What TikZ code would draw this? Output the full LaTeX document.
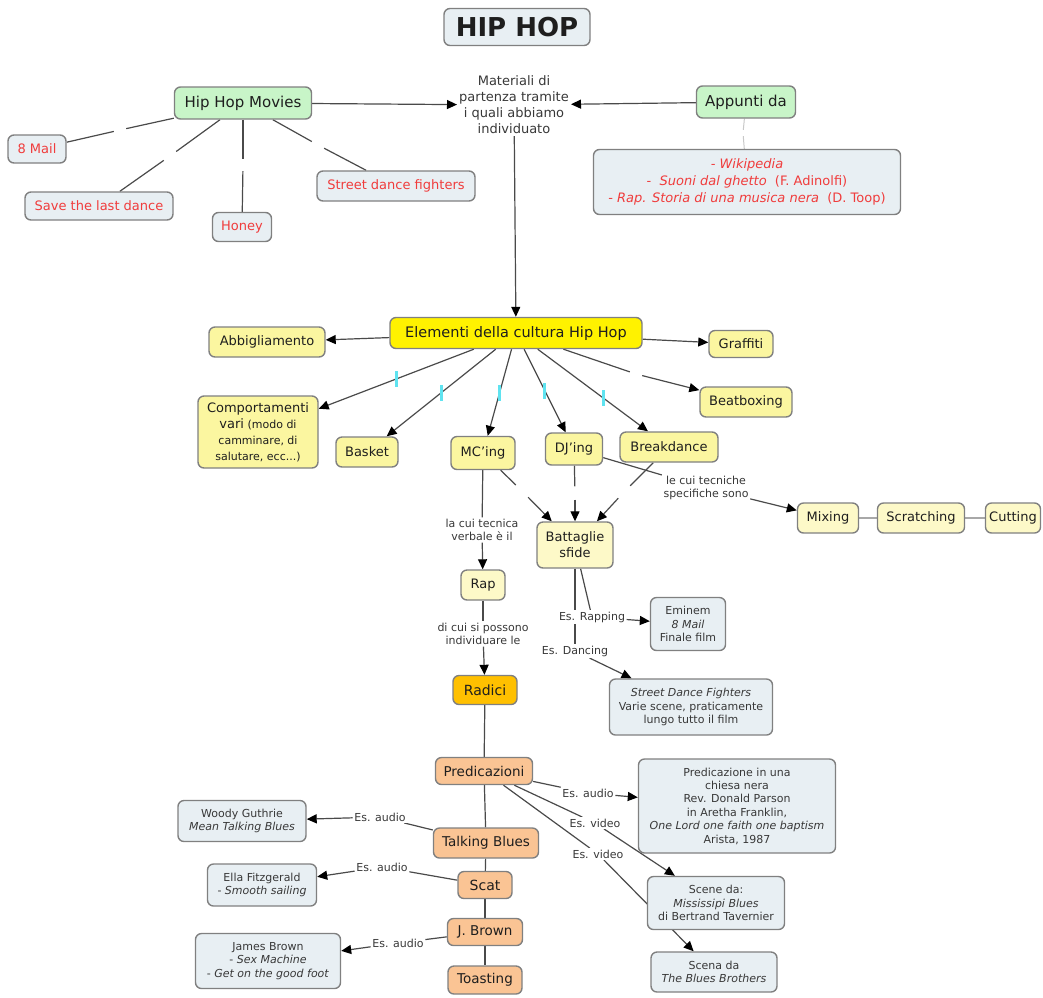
\documentclass[tikz,border=0pt]{standalone}
\usepackage{fontspec}
\setmainfont{DejaVu Sans}
\usetikzlibrary{arrows.meta,backgrounds}
\definecolor{edge}{HTML}{808080}
\definecolor{wire}{HTML}{4A4A4A}
\definecolor{ink}{HTML}{1E1E1E}
\definecolor{softink}{HTML}{383838}
\definecolor{mint}{HTML}{C8F5C8}
\definecolor{mist}{HTML}{E8EFF3}
\definecolor{lemon}{HTML}{FFF200}
\definecolor{butter}{HTML}{FBF6A0}
\definecolor{cream}{HTML}{FDF9C8}
\definecolor{amber}{HTML}{FFC000}
\definecolor{peach}{HTML}{FAC494}
\definecolor{filmred}{HTML}{F03C3C}
\definecolor{tickcyan}{HTML}{5FE3F0}
\definecolor{chain}{HTML}{A8A8A8}
\definecolor{faint}{HTML}{C8C8C8}
\newcommand\fsz[2]{\fontsize{#1}{#2}\selectfont}

\begin{document}
\begin{tikzpicture}[x=1pt,y=-1pt,
  box/.style={draw=edge, line width=1.4pt, rounded corners=6pt, align=center,
              inner sep=2pt, text=ink},
  titlebox/.style={box, fill=mist, font=\fsz{26}{30}\bfseries},
  greenbox/.style={box, fill=mint, font=\fsz{15}{18}},
  filmbox/.style={box, fill=mist, text=filmred, font=\fsz{13}{16}},
  mainbox/.style={box, fill=lemon, font=\fsz{14.5}{18}},
  yelbox/.style={box, fill=butter, font=\fsz{13}{16}},
  creambox/.style={box, fill=cream, font=\fsz{13}{16}},
  rootbox/.style={box, fill=amber, font=\fsz{14}{17}},
  peachbox/.style={box, fill=peach, font=\fsz{13.5}{16}},
  notebox/.style={box, fill=mist, font=\fsz{11}{13.4}, text=softink},
  lbl/.style={fill=white, inner sep=1.5pt, align=center, text=softink,
              font=\fsz{11}{13.2}},
  gap/.style={inner sep=0pt, minimum size=12pt},
  link/.style={draw=wire, line width=1.2pt},
  arr/.style={link, -{Triangle[length=10pt,width=9pt,color=black]}},
  tick/.style={fill=tickcyan, inner sep=0pt, minimum width=3pt, minimum height=16pt},
  chainlink/.style={draw=chain, line width=2.6pt}
]
\useasboundingbox (0,0) rectangle (1043,997);

% ---------- header and sources ----------
\node[titlebox, minimum width=146pt, minimum height=37pt] (title) at (517,27) {HIP HOP};
\node[font=\fsz{13}{16}, align=center, inner sep=2pt, text=softink] (mat) at (514,105)
  {Materiali di\\partenza tramite\\i quali abbiamo\\individuato};

\node[greenbox, minimum width=137pt, minimum height=32pt] (hhm) at (243,103) {Hip Hop Movies};
\node[greenbox, minimum width=99pt, minimum height=32pt] (app) at (746,102) {Appunti da};

\node[box, fill=mist, text=filmred, font=\fsz{13}{17}, minimum width=307pt, minimum height=65pt] (wiki) at (747,182)
  {\itshape - Wikipedia\\
   -~~\textit{Suoni dal ghetto}~~(F. Adinolfi)\\
   - \textit{Rap. Storia di una musica nera}~~(D. Toop)};

\node[filmbox, minimum width=58pt, minimum height=28pt] (m8) at (37,149) {8 Mail};
\node[filmbox, minimum width=148pt, minimum height=28pt] (save) at (99,206) {Save the last dance};
\node[filmbox, minimum width=59pt, minimum height=29pt] (honey) at (242,227) {Honey};
\node[filmbox, minimum width=158pt, minimum height=30pt] (street) at (396,186) {Street dance fighters};

\node[gap] (g1) at (120,130) {};
\node[gap] (g2) at (170,156) {};
\node[gap] (g3) at (243,165) {};
\node[gap] (g4) at (318,145) {};
\node[gap, minimum size=6pt] (g5) at (743,133) {};

% ---------- elements of the culture ----------
\node[mainbox, minimum width=252pt, minimum height=31pt] (elem) at (516,333) {Elementi della cultura Hip Hop};
\node[yelbox, minimum width=116pt, minimum height=30pt] (abb) at (267,342) {Abbigliamento};
\node[yelbox, minimum width=64pt, minimum height=27pt] (graf) at (741,344) {Graffiti};
\node[yelbox, minimum width=92pt, minimum height=30pt] (beat) at (746,402) {Beatboxing};
\node[yelbox, font=\fsz{11}{16}, minimum width=120pt, minimum height=72pt] (comp) at (258,432)
  {{\fsz{13}{16}Comportamenti}\\{\fsz{13}{16}vari} (modo di\\camminare, di\\salutare, ecc...)};
\node[yelbox, minimum width=62pt, minimum height=30pt] (basket) at (367,452) {Basket};
\node[yelbox, minimum width=64pt, minimum height=33pt] (mc) at (483,453) {MC'ing};
\node[yelbox, minimum width=57pt, minimum height=32pt] (dj) at (574,449) {DJ'ing};
\node[yelbox, minimum width=98pt, minimum height=30pt] (brk) at (669,447) {Breakdance};

\node[gap] (g6) at (636,374) {};
\node[gap] (g7) at (522,491) {};
\node[gap, minimum size=13pt] (g8) at (575,493) {};
\node[gap] (g9) at (624,492) {};

\node[creambox, minimum width=76pt, minimum height=46pt] (bat) at (575,545) {Battaglie\\sfide};
\node[lbl] (lecui) at (706,488) {le cui tecniche\\specifiche sono};
\node[creambox, minimum width=61pt, minimum height=30pt] (mix) at (828,518) {Mixing};
\node[creambox, minimum width=87pt, minimum height=30pt] (scr) at (921,518) {Scratching};
\node[creambox, minimum width=55pt, minimum height=30pt] (cut) at (1013,518) {Cutting};

\node[lbl] (lacui) at (482,530) {la cui tecnica\\verbale è il};
\node[creambox, minimum width=44pt, minimum height=30pt] (rap) at (483,585) {Rap};
\node[lbl] (dicui) at (483,634) {di cui si possono\\individuare le};
\node[rootbox, minimum width=64pt, minimum height=29pt] (radici) at (485,690) {Radici};

\node[lbl] (esrap) at (592,617) {Es. Rapping};
\node[lbl] (esdan) at (575,651) {Es. Dancing};
\node[notebox, minimum width=75pt, minimum height=53pt] (emin) at (688,624)
  {Eminem\\\textit{8 Mail}\\Finale film};
\node[notebox, minimum width=163pt, minimum height=56pt] (sdf) at (691,707)
  {\textit{Street Dance Fighters}\\Varie scene, praticamente\\lungo tutto il film};

% ---------- roots ----------
\node[peachbox, minimum width=97pt, minimum height=27pt] (pred) at (484,771) {Predicazioni};
\node[peachbox, minimum width=105pt, minimum height=30pt] (talk) at (486,843) {Talking Blues};
\node[peachbox, font=\fsz{14}{17}, minimum width=54pt, minimum height=27pt] (scat) at (485,885) {Scat};
\node[peachbox, minimum width=75pt, minimum height=27pt] (jb) at (485,932) {J. Brown};
\node[peachbox, minimum width=74pt, minimum height=28pt] (toast) at (485,980) {Toasting};

\node[lbl] (esa1) at (380,817) {Es. audio};
\node[lbl] (esa2) at (382,867) {Es. audio};
\node[lbl] (esa3) at (398,943) {Es. audio};
\node[notebox, minimum width=128pt, minimum height=41pt] (woody) at (242,821)
  {Woody Guthrie\\\textit{Mean Talking Blues}};
\node[notebox, minimum width=109pt, minimum height=42pt] (ella) at (262,885)
  {Ella Fitzgerald\\- \textit{Smooth sailing}};
\node[notebox, minimum width=145pt, minimum height=55pt] (james) at (268,961)
  {James Brown\\- \textit{Sex Machine}\\- \textit{Get on the good foot}};

\node[lbl] (esa4) at (588,793) {Es. audio};
\node[lbl] (esv1) at (595,823) {Es. video};
\node[lbl] (esv2) at (598,854) {Es. video};
\node[notebox, minimum width=197pt, minimum height=94pt] (predbox) at (737,806)
  {Predicazione in una\\chiesa nera\\Rev. Donald Parson\\in Aretha Franklin,\\\textit{One Lord one faith one baptism}\\Arista, 1987};
\node[notebox, minimum width=137pt, minimum height=53pt] (miss) at (716,903)
  {Scene da:\\\textit{Mississipi Blues}\\di Bertrand Tavernier};
\node[notebox, minimum width=126pt, minimum height=40pt] (blues) at (714,972)
  {Scena da\\\textit{The Blues Brothers}};

% ---------- connectors ----------
\begin{scope}[on background layer]
  \draw[arr] (hhm) -- (mat);
  \draw[arr] (app) -- (mat);
  \draw[arr] (mat) -- (elem);
  \draw[link] (hhm) -- (g1);  \draw[link] (g1) -- (m8);
  \draw[link] (hhm) -- (g2);  \draw[link] (g2) -- (save);
  \draw[link] (hhm) -- (g3);  \draw[link] (g3) -- (honey);
  \draw[link] (hhm) -- (g4);  \draw[link] (g4) -- (street);
  \draw[draw=faint, line width=1pt] (app) -- (g5);
  \draw[draw=faint, line width=1pt] (g5) -- (wiki);

  \draw[arr] (elem) -- (abb);
  \draw[arr] (elem) -- (graf);
  \draw[link] (elem) -- (g6);  \draw[arr] (g6) -- (beat);
  \draw[arr] (elem) -- node[tick] {} (comp);
  \draw[arr] (elem) -- node[tick] {} (basket);
  \draw[arr] (elem) -- node[tick] {} (mc);
  \draw[arr] (elem) -- node[tick] {} (dj);
  \draw[arr] (elem) -- node[tick, pos=0.6] {} (brk);

  \draw[link] (mc) -- (g7);   \draw[arr] (g7) -- (bat);
  \draw[link] (dj) -- (g8);   \draw[arr] (g8) -- (bat);
  \draw[link] (brk) -- (g9);  \draw[arr] (g9) -- (bat);

  \draw[link] (dj) -- (lecui);  \draw[arr] (lecui) -- (mix);
  \draw[chainlink] (mix) -- (scr);
  \draw[chainlink] (scr) -- (cut);

  \draw[link] (mc) -- (lacui);   \draw[arr] (lacui) -- (rap);
  \draw[link] (rap) -- (dicui);  \draw[arr] (dicui) -- (radici);

  \draw[link] (bat) -- (esrap);  \draw[arr] (esrap) -- (emin);
  \draw[link] (bat) -- (esdan);  \draw[arr] (esdan) -- (sdf);

  \draw[link] (radici) -- (pred);
  \draw[link] (pred) -- (talk);
  \draw[link] (talk) -- (scat);
  \draw[link] (scat) -- (jb);
  \draw[link] (jb) -- (toast);

  \draw[link] (talk) -- (esa1);  \draw[arr] (esa1) -- (woody);
  \draw[link] (scat) -- (esa2);  \draw[arr] (esa2) -- (ella);
  \draw[link] (jb) -- (esa3);    \draw[arr] (esa3) -- (james);

  \draw[link] (pred) -- (esa4);  \draw[arr] (esa4) -- (predbox);
  \draw[link] (pred) -- (esv1);  \draw[arr] (esv1) -- (miss);
  \draw[link] (pred) -- (esv2);  \draw[arr] (esv2) -- (blues);
\end{scope}
\end{tikzpicture}
\end{document}
